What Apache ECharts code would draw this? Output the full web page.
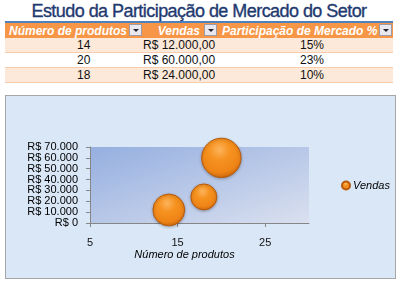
<!DOCTYPE html>
<html>
<head>
<meta charset="utf-8">
<script src="https://cdn.jsdelivr.net/npm/echarts@6/dist/echarts.min.js"></script>
<style>
  html, body { margin: 0; padding: 0; background: #fff; }
  body { width: 400px; height: 283px; position: relative; overflow: hidden; font-family: Arial, "Liberation Sans", sans-serif; }
  .title { position: absolute; left: 5px; top: 0; width: 388px; height: 21px; border-bottom: 2px solid #4F81BD; text-align: center; font-size: 18px; letter-spacing: -0.55px; -webkit-text-stroke: 0.35px #1F3A70; color: #1F3A70; line-height: 22px; white-space: nowrap; }
  table.dados { position: absolute; left: 5px; top: 23px; border-collapse: collapse; font-size: 12px; table-layout: fixed; }
  table.dados th { background: #F79646; color: #fff; font-style: italic; font-weight: bold; height: 15px; padding: 0; white-space: nowrap; position: relative; }
  table.dados td { height: 14px; padding: 0; border-bottom: 1px solid #F8CBAD; color: #111; white-space: nowrap; }
  table.dados tr.par td { background: #FDE9D9; }
  .btn { display: inline-block; width: 13px; height: 12px; background: #E8E8EE; border: 1px solid #9A9AA8; vertical-align: middle; position: absolute; right: 1px; top: 1px; box-sizing: border-box; }
  .btn:after { content: ""; position: absolute; left: 3px; top: 4px; border-left: 3px solid transparent; border-right: 3px solid transparent; border-top: 3px solid #223; }
  #grafico { position: absolute; left: 5px; top: 95px; width: 389px; height: 182px; border: 1px solid #A6A6A6; }
</style>
</head>
<body>
<div class="title">Estudo da Participação de Mercado do Setor</div>
<table class="dados" id="tabela"></table>
<div id="grafico"></div>
<script>
// dados da tabela / grafico
const produtos = [14, 20, 18];
const vendas = [12000, 60000, 24000];
const participacao = [15, 23, 10];
const cabecalhos = ['Número de produtos', 'Vendas', 'Participação de Mercado %'];
const yTicks = [0, 10000, 20000, 30000, 40000, 50000, 60000, 70000];
const xTicks = [5, 15, 25];

function moeda(v, dec) {
  let s = v.toFixed(dec ? 2 : 0).split('.');
  let inteiro = s[0].replace(/\B(?=(\d{3})+(?!\d))/g, '.');
  return 'R$ ' + inteiro + (dec ? ',' + s[1] : '');
}

// monta tabela
const tabela = document.getElementById('tabela');
let html = '<colgroup><col style="width:138px"><col style="width:75px"><col style="width:175px"></colgroup>';
html += '<tr>' +
  '<th style="text-align:left;padding-left:4px">' + cabecalhos[0] + '<span class="btn"></span></th>' +
  '<th style="text-align:right;padding-right:18px">' + cabecalhos[1] + '<span class="btn"></span></th>' +
  '<th style="text-align:left;padding-left:4px">' + cabecalhos[2] + '<span class="btn"></span></th></tr>';
for (let i = 0; i < produtos.length; i++) {
  html += '<tr class="' + (i % 2 === 0 ? 'par' : '') + '">' +
    '<td style="text-align:left;padding-left:72px">' + produtos[i] + '</td>' +
    '<td style="text-align:left;padding-left:0px">' + moeda(vendas[i], true) + '</td>' +
    '<td style="text-align:left;padding-left:82px">' + participacao[i] + '%</td></tr>';
}
tabela.innerHTML = html;

const chart = echarts.init(document.getElementById('grafico'));
const option = {
  backgroundColor: '#DAE7F6',
  animation: false,
  legend: {
    data: ['Vendas'],
    left: 335,
    top: 84,
    padding: 0,
    icon: 'circle',
    itemWidth: 8,
    itemHeight: 8,
    itemGap: 3,
    textStyle: { fontSize: 11, fontStyle: 'italic', color: '#000', fontFamily: 'Arial', padding: [0, 0, 0, -2] }
  },
  grid: {
    left: 84, top: 51, width: 219, height: 76,
    show: true,
    borderWidth: 0,
    // diagonal: canto sup. esq. mais azul, inf. dir. mais claro
    backgroundColor: new echarts.graphic.LinearGradient(0, 0, 0.215, 1.79, [
      { offset: 0, color: '#95AFE0' },
      { offset: 1, color: '#DAE0EF' }
    ])
  },
  xAxis: {
    type: 'value',
    min: 5,
    max: 30,
    interval: 10,
    name: 'Número de produtos',
    nameLocation: 'middle',
    nameGap: 26,
    nameTextStyle: { fontSize: 11, fontStyle: 'italic', color: '#000', fontFamily: 'Arial', padding: [0, 30, 0, 0] },
    axisLine: { show: true, lineStyle: { color: '#868686' } },
    axisTick: { show: true, length: 4, customValues: xTicks, lineStyle: { color: '#868686' } },
    axisLabel: { customValues: xTicks, margin: 14, fontSize: 11, color: '#111', fontFamily: 'Arial' },
    splitLine: { show: false }
  },
  yAxis: {
    type: 'value',
    min: 0,
    max: 70000,
    interval: 10000,
    axisLine: { show: true, lineStyle: { color: '#868686' } },
    axisTick: { show: true, length: 4, lineStyle: { color: '#868686' } },
    axisLabel: {
      margin: 12, fontSize: 11, color: '#000', fontFamily: 'Arial',
      formatter: v => moeda(v, false)
    },
    splitLine: { show: false }
  },
  series: [{
    name: 'Vendas',
    type: 'scatter',
    clip: false,
    data: produtos.map((p, i) => [p, vendas[i], participacao[i]]),
    symbolSize: d => 8.2 * Math.sqrt(d[2]),
    itemStyle: {
      opacity: 1,
      color: new echarts.graphic.RadialGradient(0.45, 0.3, 0.75, [
        { offset: 0, color: '#FCB35C' },
        { offset: 0.35, color: '#F6921F' },
        { offset: 0.75, color: '#EE8416' },
        { offset: 0.92, color: '#D06A10' },
        { offset: 1, color: '#B85A0A' }
      ]),
      borderColor: '#B85A0A',
      borderWidth: 1,
      shadowColor: 'rgba(0,0,0,0.25)',
      shadowBlur: 3,
      shadowOffsetY: 1
    }
  }]
};
chart.setOption(option);
</script>
</body>
</html>
